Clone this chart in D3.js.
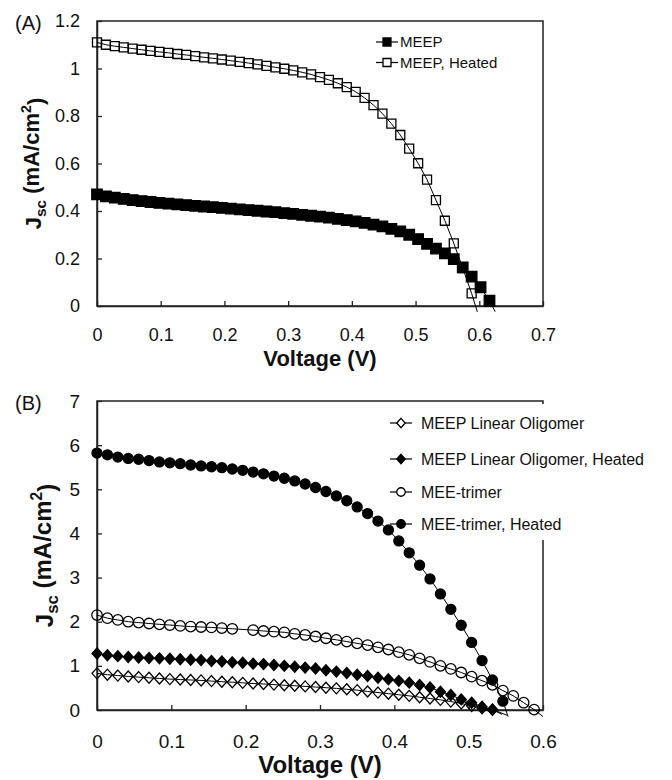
<!DOCTYPE html>
<html>
<head>
<meta charset="utf-8">
<script src="https://cdn.jsdelivr.net/npm/d3@7"></script>
<style>
body { margin: 0; background: #fff; }
</style>
</head>
<body>
<div id="chart"></div>
<script>
// voltage steps (V) shared by all curves
var volts = [0, 0.014, 0.028, 0.042, 0.056, 0.07, 0.084, 0.098, 0.112, 0.126,
    0.14, 0.154, 0.168, 0.182, 0.196, 0.21, 0.224, 0.238, 0.252, 0.266,
    0.28, 0.294, 0.308, 0.322, 0.336, 0.35, 0.364, 0.378, 0.392, 0.406,
    0.42, 0.434, 0.448, 0.462, 0.476, 0.49, 0.504, 0.518, 0.532, 0.546,
    0.56, 0.574, 0.588, 0.602, 0.616];

// panel A (mA/cm2)
var meep = [0.470, 0.462, 0.456, 0.451, 0.446, 0.442, 0.438, 0.434, 0.431, 0.428,
    0.425, 0.422, 0.419, 0.416, 0.413, 0.410, 0.407, 0.404, 0.401, 0.398,
    0.395, 0.391, 0.388, 0.384, 0.380, 0.376, 0.372, 0.367, 0.362, 0.356,
    0.350, 0.343, 0.335, 0.325, 0.314, 0.300, 0.282, 0.262, 0.242, 0.222,
    0.197, 0.163, 0.124, 0.079, 0.022];
var meepTail = [0.625, -0.024];
var meepHeated = [1.110, 1.100, 1.094, 1.089, 1.084, 1.079, 1.074, 1.070, 1.066, 1.061,
    1.057, 1.052, 1.047, 1.043, 1.038, 1.033, 1.028, 1.023, 1.017, 1.011,
    1.005, 0.999, 0.992, 0.984, 0.975, 0.964, 0.952, 0.938, 0.922, 0.902,
    0.876, 0.846, 0.810, 0.768, 0.720, 0.663, 0.601, 0.532, 0.446, 0.359,
    0.264, 0.160, 0.053];
var meepHeatedTail = [0.597, -0.025];

// panel B (mA/cm2)
var linOligo = [0.83, 0.80, 0.78, 0.76, 0.745, 0.73, 0.715, 0.70, 0.69, 0.68,
    0.67, 0.655, 0.64, 0.63, 0.615, 0.60, 0.59, 0.575, 0.56, 0.55,
    0.535, 0.52, 0.505, 0.49, 0.47, 0.45, 0.42, 0.395, 0.37, 0.345,
    0.32, 0.29, 0.26, 0.23, 0.19, 0.15, 0.09, 0.04, 0.01];
var linOligoTail = [0.552, -0.12];
var linOligoHeated = [1.28, 1.24, 1.22, 1.20, 1.19, 1.18, 1.17, 1.16, 1.15, 1.14,
    1.13, 1.11, 1.10, 1.08, 1.07, 1.05, 1.04, 1.02, 1.00, 0.98,
    0.96, 0.94, 0.90, 0.87, 0.84, 0.80, 0.77, 0.73, 0.695, 0.66,
    0.62, 0.565, 0.51, 0.415, 0.34, 0.24, 0.165, 0.075, 0.005];
var linOligoHeatedTail = [0.545, -0.1];
var trimer = [2.15, 2.08, 2.04, 2.00, 1.98, 1.96, 1.94, 1.925, 1.905, 1.89,
    1.88, 1.87, 1.855, 1.84, null, 1.81, 1.79, 1.775, 1.76, 1.725,
    1.70, 1.665, 1.625, 1.59, 1.55, 1.51, 1.47, 1.42, 1.37, 1.31,
    1.25, 1.17, 1.09, 1.00, 0.93, 0.85, 0.755, 0.665, 0.57, 0.44,
    0.32, 0.165, 0.01];
var trimerTail = [0.6, -0.15];
var trimerHeated = [5.82, 5.78, 5.73, 5.70, 5.68, 5.65, 5.62, 5.60, 5.58, 5.55,
    5.53, 5.51, 5.49, 5.46, 5.43, 5.39, 5.35, 5.30, 5.25, 5.19,
    5.12, 5.04, 4.95, 4.85, 4.74, 4.60, 4.45, 4.28, 4.08, 3.83,
    3.56, 3.28, 2.97, 2.63, 2.28, 1.92, 1.53, 1.12, 0.68, 0.20];
var trimerHeatedTail = [0.553, -0.15];

var ticksAx = [0, 0.1, 0.2, 0.3, 0.4, 0.5, 0.6, 0.7];
var labelsAx = ["0", "0.1", "0.2", "0.3", "0.4", "0.5", "0.6", "0.7"];
var ticksAy = [0, 0.2, 0.4, 0.6, 0.8, 1, 1.2];
var labelsAy = ["0", "0.2", "0.4", "0.6", "0.8", "1", "1.2"];
var ticksBx = [0, 0.1, 0.2, 0.3, 0.4, 0.5, 0.6];
var labelsBx = ["0", "0.1", "0.2", "0.3", "0.4", "0.5", "0.6"];
var ticksBy = [0, 1, 2, 3, 4, 5, 6, 7];
var labelsBy = ["0", "1", "2", "3", "4", "5", "6", "7"];

var font = "'Liberation Sans', Arial, sans-serif";
var ink = "#000", axisC = "#222";

var svg = d3.select("#chart")
    .append("svg")
    .attr("width", 672)
    .attr("height", 780);

function points(values, tail) {
    var pts = [];
    for (let i = 0; i < values.length; i++) {
        if (values[i] !== null) pts.push({ v: volts[i], j: values[i] });
    }
    var line = pts.slice();
    if (tail) line.push({ v: tail[0], j: tail[1] });
    return { marks: pts, line: line };
}

function markerPath(shape, s) {
    var h = s / 2;
    if (shape === "square") return "M" + (-h) + "," + (-h) + "h" + s + "v" + s + "h" + (-s) + "Z";
    if (shape === "diamond") return "M0," + (-h * 1.1) + "L" + h + ",0L0," + (h * 1.1) + "L" + (-h) + ",0Z";
    return "M" + h + ",0A" + h + "," + h + " 0 1,1 " + (-h) + ",0A" + h + "," + h + " 0 1,1 " + h + ",0Z";
}

function drawPanel(opt) {
    var x = d3.scaleLinear().domain(opt.xDomain).range([97, 543]);
    var y = d3.scaleLinear().domain(opt.yDomain).range(opt.yRange);
    var g = svg.append("g");

    // frame
    g.append("rect")
        .attr("x", 97).attr("y", opt.yRange[1])
        .attr("width", 446).attr("height", opt.yRange[0] - opt.yRange[1])
        .attr("fill", "none").attr("stroke", axisC).attr("stroke-width", 1.5);

    var xAxis = d3.axisBottom(x)
        .tickValues(opt.xTicks)
        .tickFormat((d, i) => opt.xLabels[i])
        .tickSizeInner(-5).tickSizeOuter(0).tickPadding(opt.xPad);
    var yAxis = d3.axisLeft(y)
        .tickValues(opt.yTicks)
        .tickFormat((d, i) => opt.yLabels[i])
        .tickSizeInner(-5).tickSizeOuter(0).tickPadding(17);

    var gx = g.append("g").attr("transform", "translate(0," + opt.yRange[0] + ")").call(xAxis);
    var gy = g.append("g").attr("transform", "translate(97,0)").call(yAxis);
    [gx, gy].forEach(function (a) {
        a.select(".domain").attr("stroke", axisC).attr("stroke-width", 1.5);
        a.selectAll(".tick line").attr("stroke", axisC).attr("stroke-width", 1.3);
        a.selectAll(".tick text")
            .attr("font-family", font)
            .attr("font-size", opt.tickSize + "px")
            .attr("fill", "#111");
    });

    // white patch over the right border behind the legend
    if (opt.legendBox) {
        g.append("rect")
            .attr("x", opt.legendBox[0]).attr("y", opt.legendBox[1])
            .attr("width", opt.legendBox[2]).attr("height", opt.legendBox[3])
            .attr("fill", "#fff");
    }

    // curves
    var lineGen = d3.line().x(d => x(d.v)).y(d => y(d.j));
    opt.series.forEach(function (s) {
        var p = points(s.values, s.tail);
        g.append("path")
            .attr("d", lineGen(p.line))
            .attr("fill", "none")
            .attr("stroke", ink)
            .attr("stroke-width", 1);
        g.selectAll(null)
            .data(p.marks)
            .enter()
            .append("path")
            .attr("d", markerPath(s.shape, s.size))
            .attr("transform", d => "translate(" + x(d.v) + "," + y(d.j) + ")")
            .attr("fill", s.filled ? ink : "none")
            .attr("stroke", ink)
            .attr("stroke-width", 1.3);
    });

    // legend
    var lg = g.append("g");
    opt.series.forEach(function (s, i) {
        var ly = opt.legendY[i];
        lg.append("line")
            .attr("x1", opt.legendX - 11).attr("x2", opt.legendX + 11)
            .attr("y1", ly).attr("y2", ly)
            .attr("stroke", ink).attr("stroke-width", 1.2);
        lg.append("path")
            .attr("d", markerPath(s.shape, opt.legendMark))
            .attr("transform", "translate(" + opt.legendX + "," + ly + ")")
            .attr("fill", s.filled ? ink : "#fff")
            .attr("stroke", ink)
            .attr("stroke-width", 1.3);
        lg.append("text")
            .attr("x", opt.legendX + opt.legendGap)
            .attr("y", ly + opt.legendFont * 0.36)
            .attr("font-family", font)
            .attr("font-size", opt.legendFont + "px")
            .attr("fill", "#111")
            .text(s.name);
    });

    // axis titles
    svg.append("text")
        .attr("x", 320).attr("y", opt.yRange[0] + opt.xTitleOff)
        .attr("text-anchor", "middle")
        .attr("font-family", font).attr("font-weight", "bold")
        .attr("font-size", opt.titleSize + "px")
        .attr("fill", "#111")
        .text("Voltage (V)");

    var yt = svg.append("text")
        .attr("transform", "translate(" + opt.yTitleX + "," + (opt.yRange[0] + opt.yRange[1]) / 2 + ") rotate(-90)")
        .attr("text-anchor", "middle")
        .attr("font-family", font).attr("font-weight", "bold")
        .attr("font-size", opt.titleSize + "px")
        .attr("fill", "#111");
    yt.append("tspan").text("J");
    yt.append("tspan").attr("font-size", "70%").attr("dy", "0.3em").text("sc");
    yt.append("tspan").attr("dy", "-0.3em").text(" (mA/cm");
    yt.append("tspan").attr("font-size", "65%").attr("dy", "-0.55em").text("2");
    yt.append("tspan").attr("dy", "0.55em").text(")");

    svg.append("text")
        .attr("x", 15).attr("y", opt.tagY)
        .attr("font-family", font)
        .attr("font-size", "20px")
        .attr("fill", "#111")
        .text(opt.tag);
}

drawPanel({
    tag: "(A)", tagY: 30,
    xDomain: [0, 0.7], yDomain: [0, 1.2], yRange: [306, 21],
    xTicks: ticksAx, xLabels: labelsAx, yTicks: ticksAy, yLabels: labelsAy,
    xPad: 22, tickSize: 18, titleSize: 22, xTitleOff: 60, yTitleX: 41,
    legendX: 387, legendGap: 13, legendFont: 15, legendMark: 8,
    legendY: [42, 62.5],
    series: [
        { name: "MEEP", values: meep, tail: meepTail, shape: "square", size: 10.5, filled: true },
        { name: "MEEP, Heated", values: meepHeated, tail: meepHeatedTail, shape: "square", size: 9, filled: false }
    ]
});

drawPanel({
    tag: "(B)", tagY: 410,
    xDomain: [0, 0.6], yDomain: [0, 7], yRange: [710, 401],
    xTicks: ticksBx, xLabels: labelsBx, yTicks: ticksBy, yLabels: labelsBy,
    xPad: 25, tickSize: 19, titleSize: 24, xTitleOff: 63, yTitleX: 53,
    legendX: 401, legendGap: 20, legendFont: 16, legendMark: 8.5,
    legendY: [423, 459, 492, 524],
    legendBox: [530, 404, 136, 136],
    series: [
        { name: "MEEP Linear Oligomer", values: linOligo, tail: linOligoTail, shape: "diamond", size: 10, filled: false },
        { name: "MEEP Linear Oligomer, Heated", values: linOligoHeated, tail: linOligoHeatedTail, shape: "diamond", size: 10, filled: true },
        { name: "MEE-trimer", values: trimer, tail: trimerTail, shape: "circle", size: 10.5, filled: false },
        { name: "MEE-trimer, Heated", values: trimerHeated, tail: trimerHeatedTail, shape: "circle", size: 10, filled: true }
    ]
});
</script>
</body>
</html>
